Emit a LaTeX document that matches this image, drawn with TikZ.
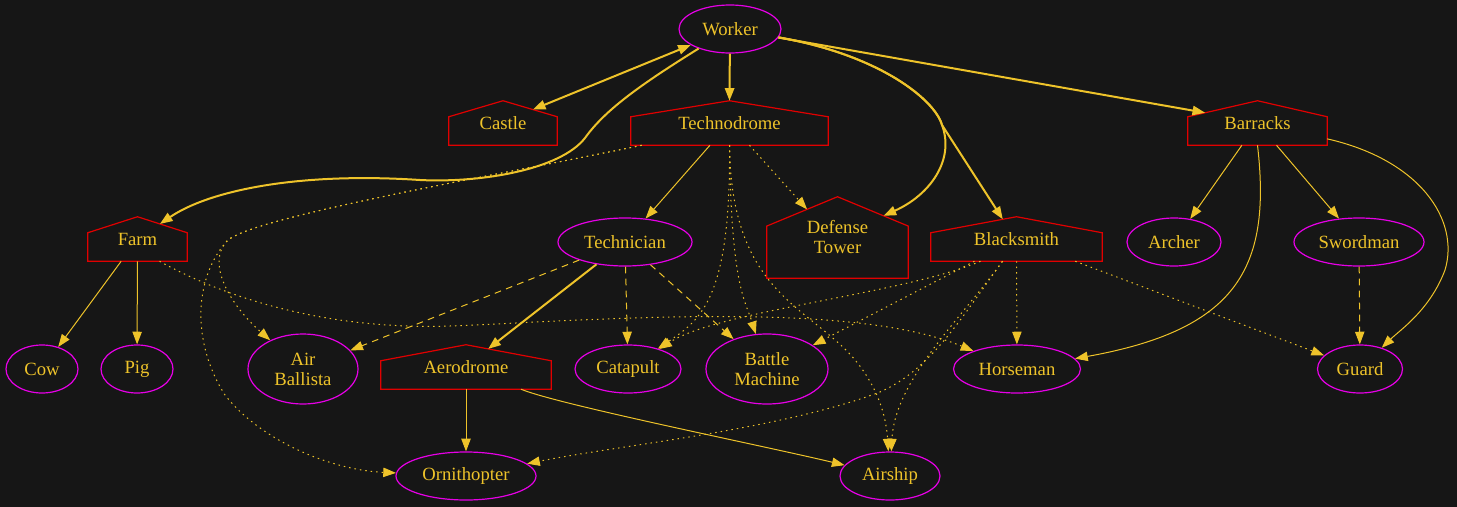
\documentclass[tikz,border=0pt]{standalone}
\usepackage{fontspec}
\setmainfont{Liberation Serif}
\usetikzlibrary{calc,arrows.meta,shapes.geometric}
\definecolor{bgDark}{RGB}{22,22,22}
\definecolor{edgeGold}{RGB}{238,195,42}
\definecolor{unitMagenta}{RGB}{230,0,230}
\definecolor{buildRed}{RGB}{225,0,0}
\newcommand{\pxu}{0.75pt}
% house outline round a building node, with its two shoulders as coordinates
\newcommand{\drawhouse}[1]{%
  \draw[houseline] (#1.south west) -- (#1.south east)
    -- ($(#1.north east)!.36!(#1.south east)$) coordinate (#1-r)
    -- (#1.north)
    -- ($(#1.north west)!.36!(#1.south west)$) coordinate (#1-l)
    -- cycle;}

\begin{document}
\begin{tikzpicture}[x=0.75pt,y=-0.75pt,
    >={Triangle[length=9.5pt,width=7pt]},
    lbl/.style={text=edgeGold, font=\fontsize{14}{15}\selectfont, align=center, inner sep=0pt},
    unit/.style={lbl, ellipse, draw=unitMagenta, line width=0.9pt},
    building/.style={lbl, rectangle},
    houseline/.style={draw=buildRed, line width=0.9pt},
    link/.style={edgeGold, line width=0.75pt, ->},
    heavy/.style={edgeGold, line width=1.5pt, ->},
    dashlink/.style={link, dash pattern=on 5pt off 4pt},
    dotlink/.style={link, dash pattern=on 1.1pt off 3pt}]
    % background
    \fill[bgDark] (0,0) rectangle (1457,507);
    \useasboundingbox (0,0) rectangle (1457,507);

    % nodes
    \node[unit, minimum width=102*\pxu, minimum height=48*\pxu] (worker) at (730,29) {Worker};
    \node[building, minimum width=108*\pxu, minimum height=44*\pxu] (castle) at (503,123) {Castle};
    \node[building, minimum width=197*\pxu, minimum height=44*\pxu] (technodrome) at (729.5,123) {Technodrome};
    \node[building, minimum width=139*\pxu, minimum height=44*\pxu] (barracks) at (1257.5,123) {Barracks};
    \node[building, minimum width=99*\pxu, minimum height=44*\pxu] (farm) at (137.5,239) {Farm};
    \node[unit, minimum width=134*\pxu, minimum height=48*\pxu] (technician) at (625,242) {Technician};
    \node[building, minimum width=141*\pxu, minimum height=81*\pxu] (defensetower) at (837.5,237.5) {Defense\\Tower};
    \node[building, minimum width=171*\pxu, minimum height=44*\pxu] (blacksmith) at (1016.5,239) {Blacksmith};
    \node[unit, minimum width=94*\pxu, minimum height=48*\pxu] (archer) at (1174,242) {Archer};
    \node[unit, minimum width=130*\pxu, minimum height=48*\pxu] (swordman) at (1359,242) {Swordman};
    \node[unit, minimum width=72*\pxu, minimum height=48*\pxu] (cow) at (42,369) {Cow};
    \node[unit, minimum width=72*\pxu, minimum height=48*\pxu] (pig) at (137,369) {Pig};
    \node[unit, minimum width=110*\pxu, minimum height=70*\pxu] (airballista) at (303,369) {Air\\Ballista};
    \node[building, minimum width=170*\pxu, minimum height=44*\pxu] (aerodrome) at (466,367) {Aerodrome};
    \node[unit, minimum width=106*\pxu, minimum height=48*\pxu] (catapult) at (628,369) {Catapult};
    \node[unit, minimum width=122*\pxu, minimum height=70*\pxu] (battlemachine) at (767,369) {Battle\\Machine};
    \node[unit, minimum width=127*\pxu, minimum height=48*\pxu] (horseman) at (1017,369) {Horseman};
    \node[unit, minimum width=85*\pxu, minimum height=48*\pxu] (guard) at (1360,369) {Guard};
    \node[unit, minimum width=140*\pxu, minimum height=48*\pxu] (ornithopter) at (466,476) {Ornithopter};
    \node[unit, minimum width=100*\pxu, minimum height=48*\pxu] (airship) at (890,476) {Airship};

    % houses
    \drawhouse{castle}
    \drawhouse{technodrome}
    \drawhouse{barracks}
    \drawhouse{farm}
    \drawhouse{defensetower}
    \drawhouse{blacksmith}
    \drawhouse{aerodrome}

    % worker
    \draw[heavy, <->] (worker) -- ($(castle.north)!.55!(castle-r)$);
    \draw[heavy] (worker) -- (technodrome.north);
    \draw[heavy] (worker) .. controls (640,85) and (605,110) .. (585,138)
        .. controls (560,170) and (480,183) .. (420,180)
        .. controls (300,172) and (210,190) .. ($(farm.north)!.45!(farm-r)$);
    \draw[heavy] (worker) -- ($(barracks.north)!.75!(barracks-l)$);
    \draw[heavy] (worker) .. controls (880,55) and (935,100) .. (942,125)
        .. controls (955,160) and (930,195) .. ($(defensetower.north)!.65!(defensetower-r)$);
    \draw[heavy] (worker) .. controls (880,55) and (935,100) .. (942,125)
        -- ($(blacksmith.north)!.16!(blacksmith-l)$);
    \draw[heavy] (technician) -- ($(aerodrome.north)!.26!(aerodrome-r)$);

    % plain links
    \draw[link] (technodrome) -- (technician);
    \draw[link] (farm) -- (cow);
    \draw[link] (farm) -- (pig);
    \draw[link] (aerodrome) -- (ornithopter);
    \draw[link] (aerodrome) .. controls (560,405) and (760,445) .. (airship);
    \draw[link] (barracks) -- (archer);
    \draw[link] (barracks) -- (swordman);
    \draw[link] (barracks.south) .. controls (1272,270) and (1235,330) .. (horseman);
    \draw[link] (barracks) .. controls (1420,160) and (1460,220) .. (1445,270)
        .. controls (1430,310) and (1400,330) .. (guard);

    % dashed
    \draw[dashlink] (technician) -- (airballista);
    \draw[dashlink] (technician) -- (catapult);
    \draw[dashlink] (technician) -- (battlemachine);
    \draw[dashlink] (swordman) -- (guard);

    % dotted
    \draw[dotlink] (technodrome) -- ($(defensetower.north)!.43!(defensetower-l)$);
    \draw[dotlink] ($(technodrome.south west)+(11,0)$) .. controls (500,175) and (260,215) .. (228,240)
        .. controls (205,262) and (230,305) .. (airballista);
    \draw[dotlink] ($(technodrome.south west)+(11,0)$) .. controls (500,175) and (260,215) .. (228,240)
        .. controls (195,275) and (190,340) .. (225,395)
        .. controls (260,440) and (330,470) .. (ornithopter);
    \draw[dotlink] (technodrome.south) .. controls (731,300) and (700,320) .. (catapult);
    \draw[dotlink] (technodrome.south) .. controls (731,285) and (745,300) .. (battlemachine);
    \draw[dotlink] (technodrome.south) .. controls (731,275) and (790,300) .. (835,340)
        .. controls (865,365) and (885,400) .. (airship);
    \draw[dotlink] ($(farm.south)+(22,0)$) .. controls (230,300) and (330,330) .. (450,326)
        .. controls (600,320) and (850,300) .. (horseman);
    \draw[dotlink] ($(blacksmith.south)+(-36,0)$) .. controls (900,295) and (720,310) .. (catapult);
    \draw[dotlink] ($(blacksmith.south)+(-42,0)$) -- (battlemachine);
    \draw[dotlink] (blacksmith) -- (horseman);
    \draw[dotlink] (blacksmith) -- (guard);
    \draw[dotlink] ($(blacksmith.south)+(-14,0)$) .. controls (960,320) and (895,380) .. (airship);
    \draw[dotlink] ($(blacksmith.south)+(-14,0)$) .. controls (960,320) and (930,370) .. (880,392)
        .. controls (780,430) and (620,445) .. (ornithopter);
\end{tikzpicture}
\end{document}
